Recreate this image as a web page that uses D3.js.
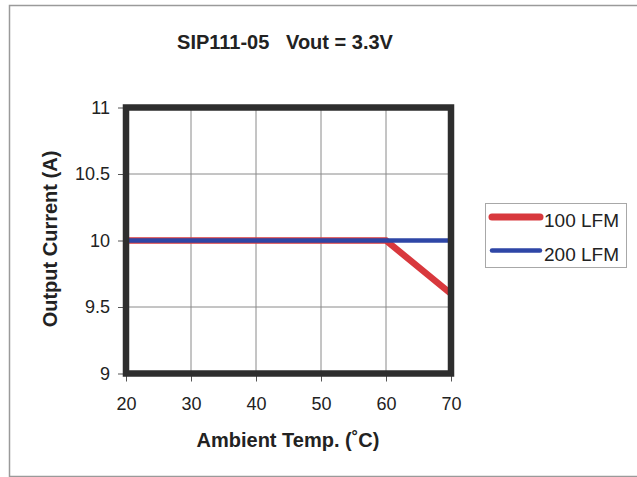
<!DOCTYPE html>
<html><head><meta charset="utf-8">
<script src="https://cdn.jsdelivr.net/npm/d3@7"></script>
<style>body{margin:0;background:#fff}svg{display:block}text{font-family:Arial,"Liberation Sans",sans-serif;fill:#222}</style>
</head><body>
<script>
const temps = [20, 30, 40, 50, 60, 70];
const lfm100 = [10, 10, 10, 10, 10, 9.6];
const lfm200 = [10, 10, 10, 10, 10, 10];
const seriesNames = ["100 LFM", "200 LFM"];
const seriesColors = ["#d8383d", "#2e46a6"];
const xTicks = [20, 30, 40, 50, 60, 70];
const yTicks = [9, 9.5, 10, 10.5, 11];
const title = "SIP111-05   Vout = 3.3V";
const xTitle = "Ambient Temp. (˚C)";
const yTitle = "Output Current (A)";

const W = 637, H = 477;
const svg = d3.select("body").append("svg").attr("width", W).attr("height", H);

// outer frame
svg.append("path").attr("d", "M637,5.5H9.5V476.5H637").attr("fill", "none").attr("stroke", "#9a9a9a").attr("stroke-width", 1.5);

const x = d3.scaleLinear().domain([20, 70]).range([126, 451]);
const y = d3.scaleLinear().domain([9, 11]).range([373.5, 107.5]);

// gridlines
const g = svg.append("g");
g.selectAll(".vg").data(xTicks).join("line")
  .attr("x1", d => x(d)).attr("x2", d => x(d)).attr("y1", y(11)).attr("y2", y(9))
  .attr("stroke", "#8a8a8a").attr("stroke-width", 1);
g.selectAll(".hg").data(yTicks).join("line")
  .attr("y1", d => y(d)).attr("y2", d => y(d)).attr("x1", x(20)).attr("x2", x(70))
  .attr("stroke", "#8a8a8a").attr("stroke-width", 1);

// axes
const xAxis = svg.append("g").attr("transform", `translate(0,${y(9)})`)
  .call(d3.axisBottom(x).tickValues(xTicks).tickSize(8).tickPadding(16).tickFormat(d3.format("d")));
const yAxis = svg.append("g").attr("transform", `translate(${x(20)},0)`)
  .call(d3.axisLeft(y).tickValues(yTicks).tickSize(8).tickPadding(8).tickFormat(d => String(d)));
[xAxis, yAxis].forEach(a => {
  a.select(".domain").remove();
  a.selectAll("line").attr("stroke", "#555");
  a.selectAll("text").attr("font-size", 18).attr("fill", "#222").style("font-family", "Arial, 'Liberation Sans', sans-serif");
});

// data lines
const line = d3.line().x((d, i) => x(temps[i])).y(d => y(d));
svg.append("path").datum(lfm100).attr("d", line).attr("fill", "none")
  .attr("stroke", seriesColors[0]).attr("stroke-width", 6.5);
svg.append("path").datum(lfm200).attr("d", line).attr("fill", "none")
  .attr("stroke", seriesColors[1]).attr("stroke-width", 4.5);

// plot frame
svg.append("rect").attr("x", x(20)).attr("y", y(11)).attr("width", x(70) - x(20)).attr("height", y(9) - y(11))
  .attr("fill", "none").attr("stroke", "#2e2e2e").attr("stroke-width", 6.5);

// titles
svg.append("text").attr("x", 285).attr("y", 49).attr("text-anchor", "middle")
  .attr("font-size", 20).attr("font-weight", "bold").style("white-space", "pre").text(title);
svg.append("text").attr("x", 288).attr("y", 447).attr("text-anchor", "middle")
  .attr("font-size", 20).attr("font-weight", "bold").text(xTitle);
svg.append("text").attr("transform", "translate(57,239) rotate(-90)").attr("text-anchor", "middle")
  .attr("font-size", 20).attr("font-weight", "bold").text(yTitle);

// legend
const lg = svg.append("g");
lg.append("rect").attr("x", 485.5).attr("y", 203.5).attr("width", 141).attr("height", 64)
  .attr("fill", "#fff").attr("stroke", "#a8a8a8").attr("stroke-width", 1);
const ly = [217, 250.5];
const lw = [7, 4.5];
seriesNames.forEach((n, i) => {
  lg.append("line").attr("x1", 492).attr("x2", 540).attr("y1", ly[i]).attr("y2", ly[i])
    .attr("stroke", seriesColors[i]).attr("stroke-width", lw[i]).attr("stroke-linecap", "round");
  lg.append("text").attr("x", 544).attr("y", ly[i] + 10).attr("font-size", 19).text(n);
});
</script>
</body></html>
